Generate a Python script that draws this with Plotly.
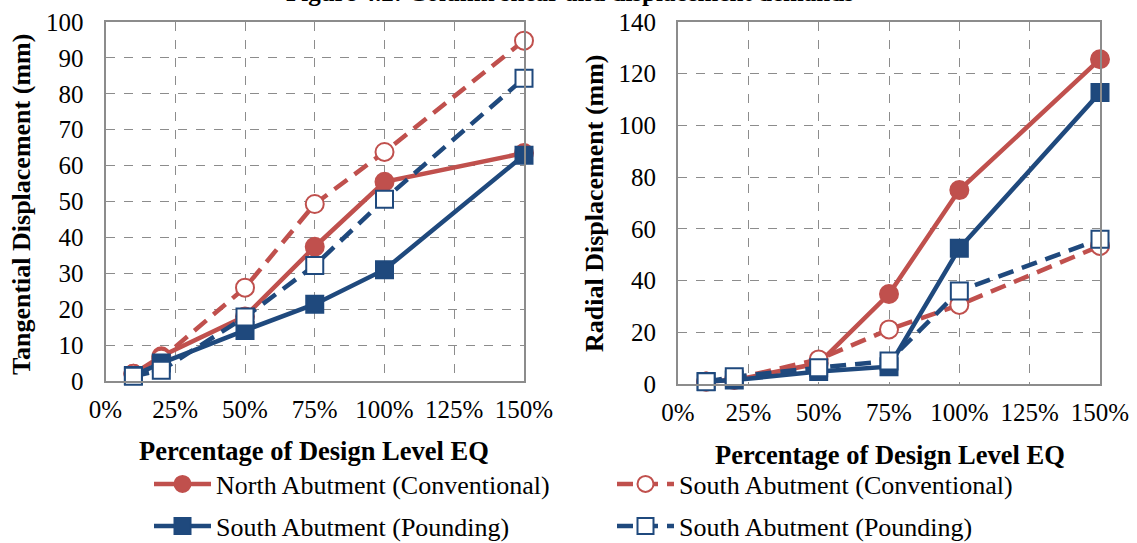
import plotly.graph_objects as go

W, H = 1137, 543

# ---- data ----
pct = [10, 20, 50, 75, 100, 150]

tang_north_conv = [2, 6.9, 18, 37.4, 55.5, 63.5]
tang_south_conv = [2, 6.2, 26, 49.3, 63.8, 94.8]
tang_south_pound_solid = [1.5, 5.0, 14.1, 21.4, 31.0, 62.9]
tang_south_pound_dash = [1.3, 3.0, 17.8, 32.2, 50.6, 84.3]

rad_north_conv = [1, 1.5, 8.0, 34.8, 75.0, 125.6]
rad_south_conv = [1, 2.0, 9.5, 21.1, 30.6, 53.4]
rad_south_pound_solid = [1, 1.5, 4.8, 6.7, 52.5, 112.7]
rad_south_pound_dash = [0.9, 2.8, 6.3, 8.9, 36.0, 56.0]

names = ["North Abutment (Conventional)", "South Abutment (Conventional)",
         "South Abutment (Pounding)", "South Abutment (Pounding)"]

x_ticks = [0, 25, 50, 75, 100, 125, 150]
x_ticktext = ["0%", "25%", "50%", "75%", "100%", "125%", "150%"]

RED = "#C0504D"
BLUE = "#1F497D"
GRID = "#8C8C8C"
FONT = "Liberation Serif, Times New Roman, serif"

styles = [
    dict(color=RED, dash="solid", symbol="circle", fill=RED, size=18, legend="legend"),
    dict(color=RED, dash="16px,9px", symbol="circle", fill="white", size=18, legend="legend"),
    dict(color=BLUE, dash="solid", symbol="square", fill=BLUE, size=17, legend="legend2"),
    dict(color=BLUE, dash="16px,9px", symbol="square", fill="white", size=17, legend="legend2"),
]

fig = go.Figure()

tang = [tang_north_conv, tang_south_conv, tang_south_pound_solid, tang_south_pound_dash]
rad = [rad_north_conv, rad_south_conv, rad_south_pound_solid, rad_south_pound_dash]

for i in [0, 1, 2, 3]:
    s = styles[i]
    for j, (data, xa, ya) in enumerate([(tang[i], "x", "y"), (rad[i], "x2", "y2")]):
        fig.add_trace(go.Scatter(
            x=pct, y=data, xaxis=xa, yaxis=ya,
            mode="lines+markers", name=names[i],
            showlegend=(j == 0), legend=s["legend"],
            line=dict(color=s["color"], width=4.5, dash=s["dash"]),
            marker=dict(symbol=s["symbol"], size=s["size"], color=s["fill"],
                        line=dict(color=s["color"], width=2)),
            cliponaxis=False,
        ))

def px_x(p):
    return p / W

def px_y(p):
    return 1 - p / H

axis_common = dict(
    showline=True, linecolor=GRID, linewidth=2, mirror=True,
    showgrid=True, gridcolor=GRID, gridwidth=1, griddash="dash",
    zeroline=False, ticks="outside", tickcolor="rgba(0,0,0,0)",
    tickfont=dict(family=FONT, size=25, color="black"),
)
xax = dict(range=[0, 150], tickvals=x_ticks, ticktext=x_ticktext, ticklen=5, **axis_common)
yax = dict(ticklen=15, **axis_common)

leg_common = dict(orientation="h", xanchor="left", yanchor="middle",
                  font=dict(family=FONT, size=26, color="black"), entrywidth=391,
                  bgcolor="rgba(0,0,0,0)", itemwidth=57)

fig.update_layout(
    width=W, height=H,
    margin=dict(l=0, r=0, t=0, b=0, autoexpand=False),
    paper_bgcolor="white", plot_bgcolor="white",
    font=dict(family=FONT, color="black"),
    xaxis=dict(domain=[px_x(105.5), px_x(524)], anchor="y", **xax),
    yaxis=dict(domain=[px_y(381), px_y(22)], range=[0, 100], dtick=10, anchor="x", **yax),
    xaxis2=dict(domain=[px_x(678), px_x(1100)], anchor="y2", **xax),
    yaxis2=dict(domain=[px_y(384), px_y(22)], range=[0, 140], dtick=20, anchor="x2", **yax),
    legend=dict(x=px_x(149), y=px_y(484), **leg_common),
    legend2=dict(x=px_x(149), y=px_y(526), **leg_common),
    showlegend=True,
)

ann = [
    dict(text="<b>Tangential Displacement (mm)</b>", x=px_x(21), y=px_y(205), textangle=-90, size=26),
    dict(text="<b>Radial Displacement (mm)</b>", x=px_x(594), y=px_y(203), textangle=-90, size=26),
    dict(text="<b>Percentage of Design Level EQ</b>", x=px_x(314), y=px_y(451), size=26.5),
    dict(text="<b>Percentage of Design Level EQ</b>", x=px_x(890), y=px_y(455), size=26.5),
    dict(text="<b>Figure 4.2: Column shear and displacement demands</b>", x=px_x(570),
         y=px_y(-7), size=25),
]
for a in ann:
    size = a.pop("size")
    fig.add_annotation(xref="paper", yref="paper", showarrow=False,
                       xanchor="center", yanchor="middle",
                       font=dict(family=FONT, color="black", size=size), **a)

fig.write_html("out.html", config={"displayModeBar": False},
               post_script="document.body.style.margin='0px';")
